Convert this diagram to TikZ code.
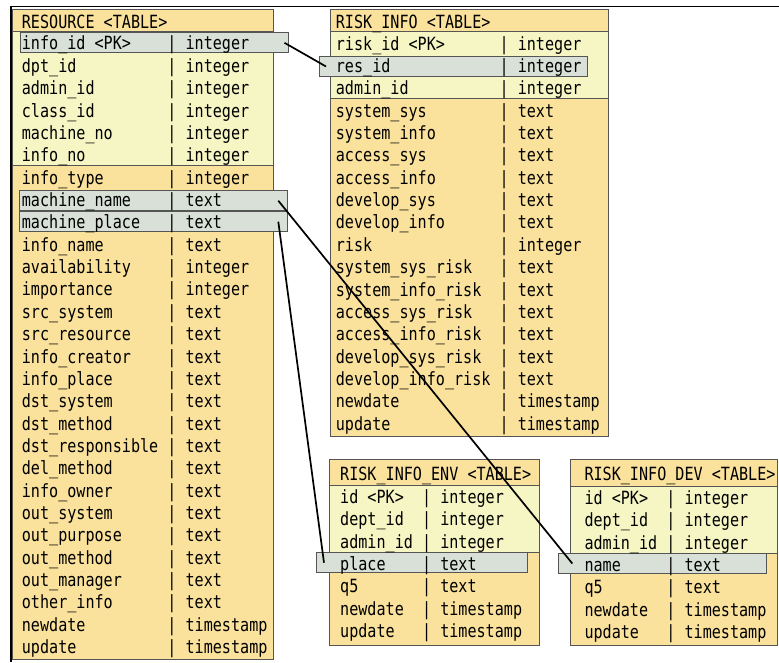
\documentclass[tikz,border=0pt]{standalone}
\usepackage{fontspec}
\usepackage{tikz}
\usetikzlibrary{matrix}
\newfontfamily\tblfont[FakeStretch=0.83]{DejaVu Sans Mono}
\newcommand{\tblsize}{\tblfont\fontsize{18.2}{22}\selectfont}
\newcommand{\colbar}{\textbar}
\definecolor{tblorange}{RGB}{250,226,156}
\definecolor{tblyellow}{RGB}{245,246,195}
\definecolor{keyfill}{RGB}{216,224,216}
\definecolor{tblline}{RGB}{85,85,85}

\tikzset{
  tblframe/.style={fill=tblorange, draw=tblline, line width=1pt},
  tblband/.style={fill=tblyellow, draw=tblline, line width=1pt},
  tblhead/.style={anchor=west, inner sep=0pt, font=\tblsize, text=black,
    text height=16pt, text depth=2pt, minimum height=22.36pt},
  keybox/.style={anchor=west, draw=tblline, fill=keyfill, line width=1pt,
    minimum height=20pt, inner sep=0pt},
  tblrows/.style={matrix of nodes, anchor=north west, inner sep=0pt,
    row sep=0pt, column sep=0pt,
    nodes={anchor=west, inner sep=0pt, font=\tblsize, text=black,
      text height=16pt, text depth=2pt, minimum height=22.36pt},
    column 2/.style={nodes={minimum width=27.3pt}}},
  link/.style={draw=black, line width=1.7pt}
}

\begin{document}
\begin{tikzpicture}[x=1pt, y=-1pt]
  \useasboundingbox (0,0) rectangle (779,662);
  % table bodies
  \draw[tblframe] (12.5,9.3) rectangle (273,659);
  \draw[tblband] (12.5,31.6) rectangle (273,165.8);
  \draw[tblframe] (330.7,9.3) rectangle (608.3,436);
  \draw[tblband] (330.7,31.7) rectangle (608.3,98.8);
  \draw[tblframe] (329,459.3) rectangle (539,645);
  \draw[tblband] (329,485) rectangle (539,552.1);
  \draw[tblframe] (570,459.3) rectangle (777.5,645);
  \draw[tblband] (570,486) rectangle (777.5,553.1);
  %
  % key rows
  \node[keybox, minimum width=268pt] (infoidkey) at (19.5,42.8) {};
  \node[keybox, minimum width=268pt] (machnamekey) at (19.3,200.7) {};
  \node[keybox, minimum width=268pt] (machplacekey) at (19.3,221.7) {};
  \node[keybox, minimum width=267.7pt] (residkey) at (319,66.5) {};
  \node[keybox, minimum width=210.7pt] (placekey) at (316,562.7) {};
  \node[keybox, minimum width=207.7pt] (namekey) at (558.3,563.5) {};
  %
  % headers
  \node[tblhead] (resourcehead) at (21.7,21) {RESOURCE <TABLE>};
  \node[tblhead] (riskinfohead) at (335.7,21) {RISK\_INFO <TABLE>};
  \node[tblhead] (riskenvhead) at (340,473) {RISK\_INFO\_ENV <TABLE>};
  \node[tblhead] (riskdevhead) at (584.3,473.5) {RISK\_INFO\_DEV <TABLE>};
  %
  \matrix[tblrows] (resource) at (21.7,31.6) {
    info\_id <PK> & \colbar & integer \\
    dpt\_id & \colbar & integer \\
    admin\_id & \colbar & integer \\
    class\_id & \colbar & integer \\
    machine\_no & \colbar & integer \\
    info\_no & \colbar & integer \\
    info\_type & \colbar & integer \\
    machine\_name & \colbar & text \\
    machine\_place & \colbar & text \\
    info\_name & \colbar & text \\
    availability & \colbar & integer \\
    importance & \colbar & integer \\
    src\_system & \colbar & text \\
    src\_resource & \colbar & text \\
    info\_creator & \colbar & text \\
    info\_place & \colbar & text \\
    dst\_system & \colbar & text \\
    dst\_method & \colbar & text \\
    dst\_responsible & \colbar & text \\
    del\_method & \colbar & text \\
    info\_owner & \colbar & text \\
    out\_system & \colbar & text \\
    out\_purpose & \colbar & text \\
    out\_method & \colbar & text \\
    out\_manager & \colbar & text \\
    other\_info & \colbar & text \\
    newdate & \colbar & timestamp \\
    update & \colbar & timestamp \\
  };
  %
  \matrix[tblrows] (riskinfo) at (335.7,31.7) {
    risk\_id <PK> & \colbar & integer \\
    res\_id & \colbar & integer \\
    admin\_id & \colbar & integer \\
    system\_sys & \colbar & text \\
    system\_info & \colbar & text \\
    access\_sys & \colbar & text \\
    access\_info & \colbar & text \\
    develop\_sys & \colbar & text \\
    develop\_info & \colbar & text \\
    risk & \colbar & integer \\
    system\_sys\_risk & \colbar & text \\
    system\_info\_risk & \colbar & text \\
    access\_sys\_risk & \colbar & text \\
    access\_info\_risk & \colbar & text \\
    develop\_sys\_risk & \colbar & text \\
    develop\_info\_risk & \colbar & text \\
    newdate & \colbar & timestamp \\
    update & \colbar & timestamp \\
  };
  %
  \matrix[tblrows] (riskenv) at (340,485) {
    id <PK> & \colbar & integer \\
    dept\_id & \colbar & integer \\
    admin\_id & \colbar & integer \\
    place & \colbar & text \\
    q5 & \colbar & text \\
    newdate & \colbar & timestamp \\
    update & \colbar & timestamp \\
  };
  %
  \matrix[tblrows] (riskdev) at (584.3,486) {
    id <PK> & \colbar & integer \\
    dept\_id & \colbar & integer \\
    admin\_id & \colbar & integer \\
    name & \colbar & text \\
    q5 & \colbar & text \\
    newdate & \colbar & timestamp \\
    update & \colbar & timestamp \\
  };
  %
  % links
  \draw[link] ([xshift=-4pt]infoidkey.east) -- ([xshift=7pt]residkey.west);
  \draw[link] ([xshift=-10pt]machnamekey.east) -- ([xshift=14pt]namekey.west);
  \draw[link] ([xshift=-10pt]machplacekey.east) -- ([xshift=8pt]placekey.west);
  %
  \draw[line width=1.5pt] (11,662) -- (11,6.7) -- (779,6.7);
\end{tikzpicture}
\end{document}
